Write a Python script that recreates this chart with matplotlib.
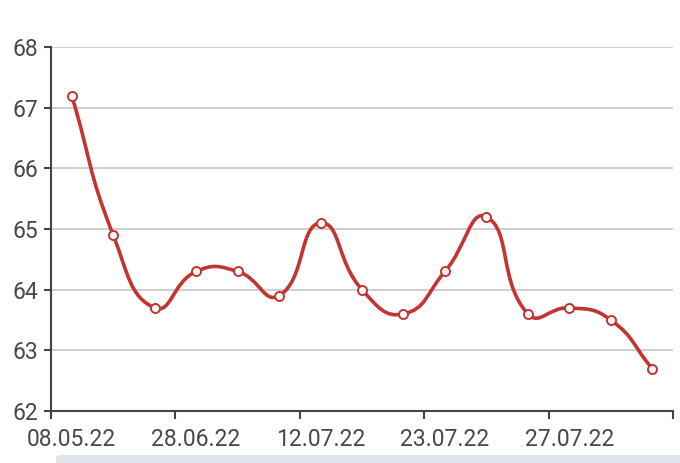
import numpy as np
import matplotlib
matplotlib.use("Agg")
import matplotlib.pyplot as plt
from matplotlib.path import Path
from matplotlib.patches import PathPatch, FancyBboxPatch

values = [67.2, 64.9, 63.7, 64.3, 64.3, 63.9, 65.1, 64.0, 63.6, 64.3, 65.2, 63.6, 63.7, 63.5, 62.7]
tick_labels = ["08.05.22", "28.06.22", "12.07.22", "23.07.22", "27.07.22"]
y_ticks = [62, 63, 64, 65, 66, 67, 68]

plt.rcParams['font.family'] = ['Roboto', 'DejaVu Sans']

fig = plt.figure(figsize=(6.8, 4.63), dpi=100)
W, H = 680, 463
left, right, top, bottom = 51, 673, 47, 411
ax = fig.add_axes([left / W, (H - bottom) / H, (right - left) / W, (bottom - top) / H])

n = len(values)
x = np.arange(n, dtype=float)
y = np.array(values, dtype=float)

ax.set_xlim(-0.5, n - 0.5)
ax.set_ylim(62, 68)

# smooth curve (ECharts-like bezier smoothing), built in scaled space
sx = (right - left) / n
sy = (bottom - top) / 6.0
P = np.column_stack([x * sx, y * sy])
smooth = 0.5
cps = []
for i in range(n):
    p = P[i]
    prev = P[i - 1] if i > 0 else p
    nxt = P[i + 1] if i < n - 1 else p
    v = (nxt - prev) * smooth
    d0 = np.linalg.norm(p - prev)
    d1 = np.linalg.norm(nxt - p)
    s = d0 + d1
    if s > 0:
        r0, r1 = d0 / s, d1 / s
    else:
        r0 = r1 = 0
    cps.append((p - v * r0, p + v * r1))
verts = [P[0]]
codes = [Path.MOVETO]
for i in range(n - 1):
    verts += [cps[i][1], cps[i + 1][0], P[i + 1]]
    codes += [Path.CURVE4] * 3
verts = np.array(verts)
verts[:, 0] /= sx
verts[:, 1] /= sy
color = "#c23531"
ax.add_patch(PathPatch(Path(verts, codes), facecolor="none", edgecolor=color,
                       lw=2.6, capstyle="round", joinstyle="round", zorder=3))
ax.plot(x, y, linestyle="none", marker="o", markersize=6.5, markerfacecolor="white",
        markeredgecolor=color, markeredgewidth=1.4, zorder=4)

# grid
for t in y_ticks[1:]:
    ax.axhline(t, color="#cccccc", lw=1.3, zorder=1)

for s in ["top", "right"]:
    ax.spines[s].set_visible(False)
for s in ["left", "bottom"]:
    ax.spines[s].set_color("#444444")
    ax.spines[s].set_linewidth(1.5)

ax.set_yticks(y_ticks)
ax.set_yticklabels([str(t) for t in y_ticks])
# tick marks on category boundaries, labels on category centres
ax.set_xticks(np.arange(-0.5, n, 3))
ax.set_xticklabels([""] * len(np.arange(-0.5, n, 3)))
ax.set_xticks(np.arange(0, n, 3), minor=True)
ax.set_xticklabels(tick_labels, minor=True)
ax.tick_params(axis="both", colors="#444444", labelcolor="#484848", labelsize=16.5,
               width=1.5, length=5)
ax.tick_params(axis="x", which="major", length=6)
ax.tick_params(axis="x", which="minor", length=0, pad=12, labelsize=16.5,
               labelcolor="#484848")
ax.tick_params(axis="y", pad=4)

# bottom bar
fig.patches.append(FancyBboxPatch((56 / W, -0.02), 1.0, 0.02 + 8 / H,
                                  boxstyle="round,pad=0,rounding_size=0.008",
                                  transform=fig.transFigure, facecolor="#dfe4ec",
                                  edgecolor="none", figure=fig))

fig.savefig("out.png", dpi=100)
